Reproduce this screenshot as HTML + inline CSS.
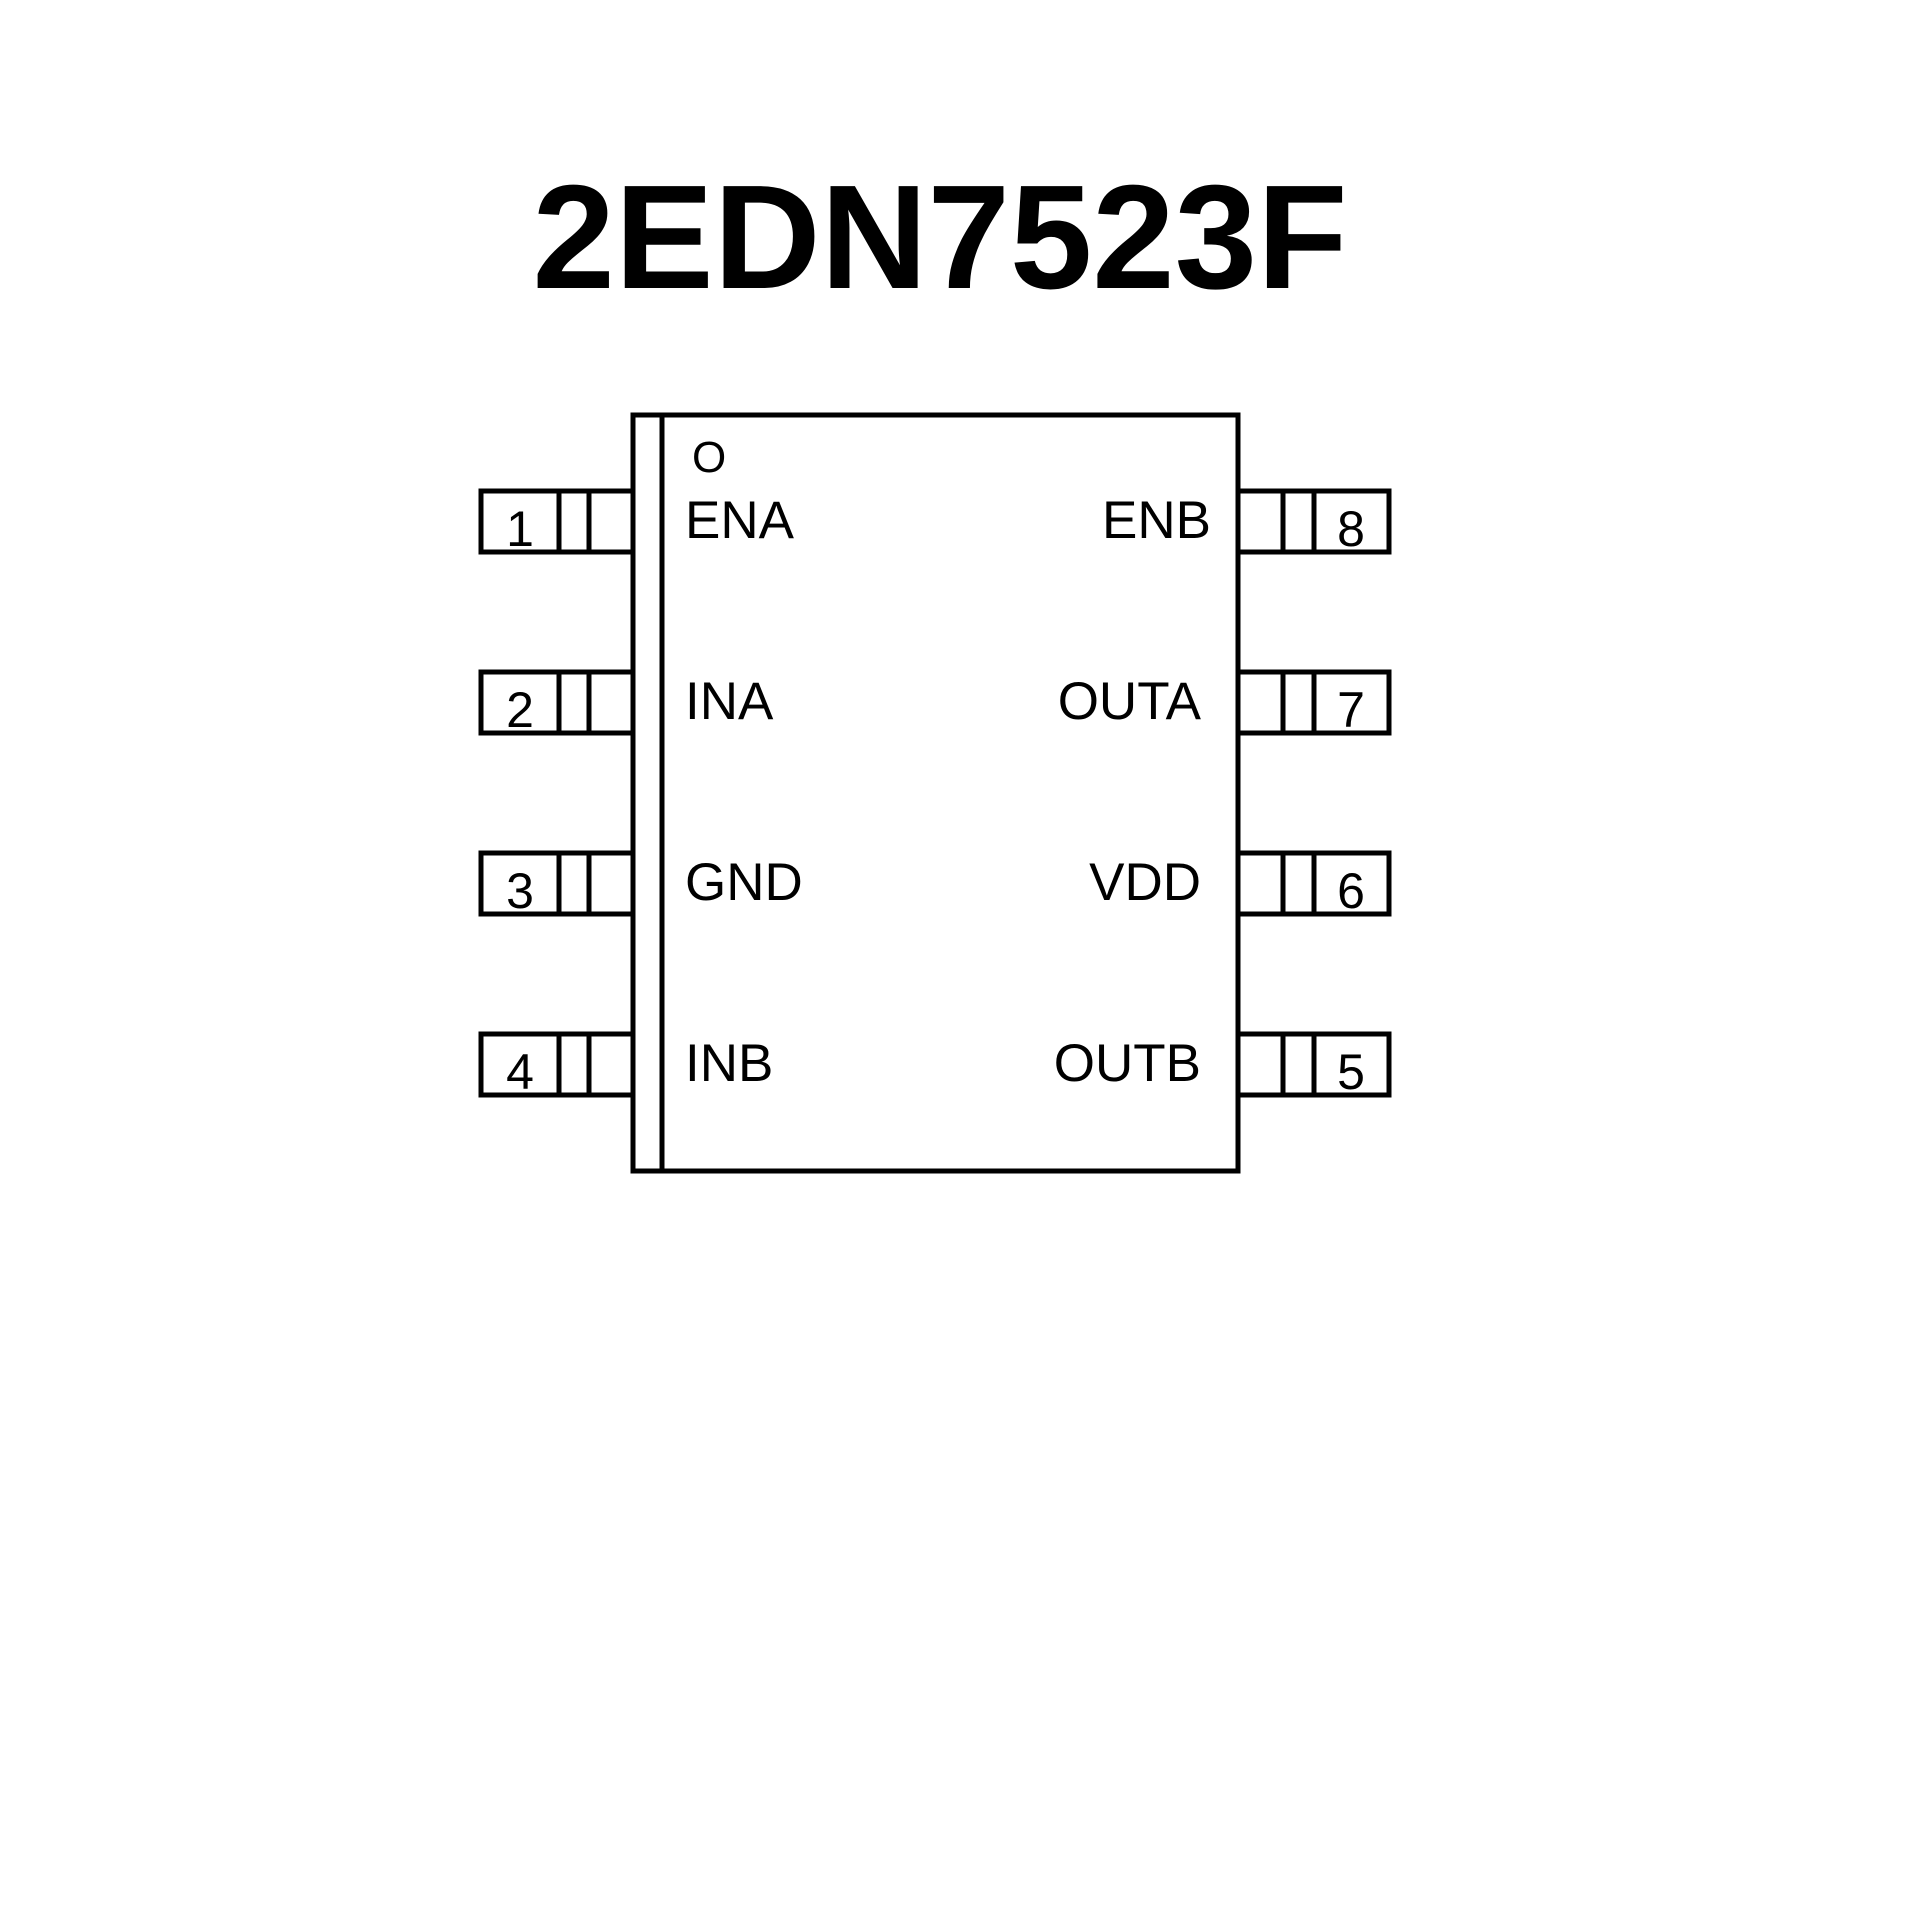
<!DOCTYPE html>
<html><head><meta charset="utf-8"><style>html,body{margin:0;padding:0;background:#fff}</style></head>
<body>
<svg width="1920" height="1920" viewBox="0 0 1920 1920" xmlns="http://www.w3.org/2000/svg">
<rect width="1920" height="1920" fill="#fff"/>
<text x="940" y="288" font-family="Liberation Sans, sans-serif" font-weight="bold" font-size="148" text-anchor="middle" textLength="815" lengthAdjust="spacingAndGlyphs">2EDN7523F</text>
<g stroke="#000" stroke-width="5" fill="none">
<rect x="633" y="415" width="605" height="756"/>
<line x1="662" y1="415" x2="662" y2="1171"/>
<g id="lp">
<path d="M633 491 H481 V552 H633"/>
<line x1="559" y1="491" x2="559" y2="552"/>
<line x1="589" y1="491" x2="589" y2="552"/>
</g>
<use href="#lp" y="181"/><use href="#lp" y="362"/><use href="#lp" y="543"/>
<g id="rp">
<path d="M1238 491 H1389 V552 H1238"/>
<line x1="1283" y1="491" x2="1283" y2="552"/>
<line x1="1314" y1="491" x2="1314" y2="552"/>
</g>
<use href="#rp" y="181"/><use href="#rp" y="362"/><use href="#rp" y="543"/>
</g>
<g font-family="Liberation Sans, sans-serif" font-size="53" fill="#000">
<text x="692" y="472" font-size="44">O</text>
<text x="685" y="538">ENA</text>
<text x="685" y="719">INA</text>
<text x="685" y="900">GND</text>
<text x="685" y="1081">INB</text>
<g text-anchor="end">
<text x="1211" y="538">ENB</text>
<text x="1201" y="719">OUTA</text>
<text x="1201" y="900">VDD</text>
<text x="1201" y="1081">OUTB</text>
</g>
<g font-size="50" text-anchor="middle">
<text x="520" y="546">1</text>
<text x="520" y="727">2</text>
<text x="520" y="908">3</text>
<text x="520" y="1089">4</text>
<text x="1351" y="546">8</text>
<text x="1351" y="727">7</text>
<text x="1351" y="908">6</text>
<text x="1351" y="1089">5</text>
</g>
</g>
</svg>
</body></html>
